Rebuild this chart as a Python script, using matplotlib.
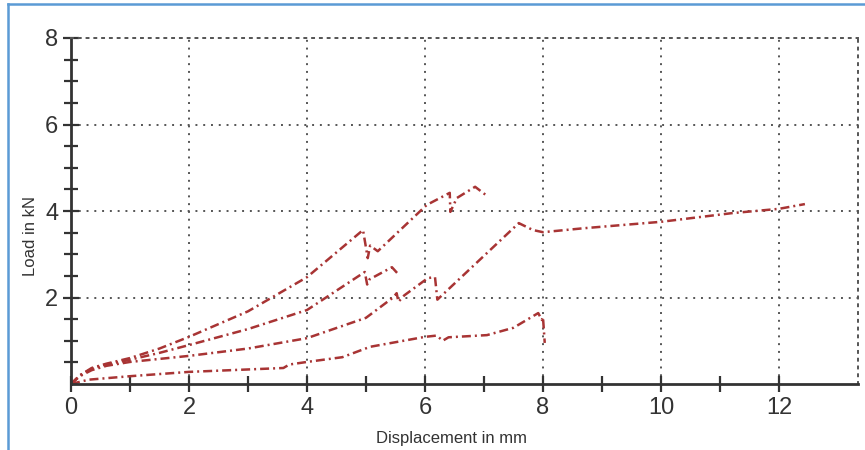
import matplotlib
matplotlib.use("Agg")
import matplotlib.pyplot as plt
from matplotlib.lines import Line2D

# ---- data ----
s1_x = [0, 0.15, 0.35, 0.6, 1, 1.5, 2, 3, 4, 4.95, 5.03, 5.07, 5.2, 6.03, 6.42, 6.43, 6.54, 6.85, 7.07]
s1_y = [0, 0.2, 0.37, 0.47, 0.6, 0.82, 1.09, 1.68, 2.47, 3.56, 2.91, 3.2, 3.07, 4.14, 4.42, 3.98, 4.3, 4.56, 4.33]

s2_x = [0, 0.15, 0.35, 0.6, 1, 1.5, 2, 3, 4, 4.98, 5.02, 5.06, 5.44, 5.54, 5.58]
s2_y = [0, 0.2, 0.35, 0.45, 0.56, 0.72, 0.9, 1.27, 1.71, 2.59, 2.3, 2.42, 2.7, 2.55, 2.52]

s3_x = [0, 0.15, 0.35, 0.6, 1, 1.5, 2, 3, 4, 5, 5.46, 5.52, 5.55, 5.65, 6.05, 6.17, 6.21,
        7.59, 7.83, 8.0, 8.68, 10.0, 11.2, 12.0, 12.44]
s3_y = [0, 0.18, 0.32, 0.42, 0.51, 0.58, 0.65, 0.82, 1.06, 1.53, 2.0, 2.1, 1.9, 2.05, 2.45, 2.47, 1.95,
        3.72, 3.56, 3.51, 3.6, 3.75, 3.95, 4.05, 4.16]

s4_x = [0, 0.3, 1, 2, 3.6, 3.7, 4, 4.6, 5.07, 6.0, 6.2, 6.3, 6.4, 7.05, 7.5, 7.92, 7.98, 8.0, 8.03]
s4_y = [0, 0.1, 0.18, 0.28, 0.37, 0.45, 0.51, 0.62, 0.86, 1.09, 1.12, 1.0, 1.08, 1.13, 1.3, 1.64, 1.48, 1.55, 0.95]

series = [(s1_x, s1_y), (s2_x, s2_y), (s3_x, s3_y), (s4_x, s4_y)]

x_major = [0, 2, 4, 6, 8, 10, 12]
x_minor = [1, 3, 5, 7, 9, 11]
y_major = [2, 4, 6, 8]
y_minor = [0.5, 1, 1.5, 2.5, 3, 3.5, 4.5, 5, 5.5, 6.5, 7, 7.5]

xlabel = "Displacement in mm"
ylabel = "Load in kN"

# ---- figure ----
plt.rcParams['font.family'] = ['Liberation Sans', 'DejaVu Sans']
W, H = 865, 450
fig = plt.figure(figsize=(W / 100, H / 100), dpi=100)
fig.patch.set_facecolor('white')

ax = fig.add_axes([71 / W, 1 - 384 / H, (858 - 71) / W, (384 - 38) / H])
ax.set_xlim(0, 13.34)
ax.set_ylim(0, 8)

line_color = '#a83434'
for xs, ys in series:
    ax.plot(xs, ys, color=line_color, lw=1.8, linestyle=(0, (3.6, 1.6, 0.8, 1.6)),
            solid_capstyle='butt', dash_capstyle='butt')

grid_kw = dict(color='#555555', lw=1.4, linestyle=(0, (1, 3)))
ax.set_xticks(x_major)
ax.set_xticks(x_minor, minor=True)
ax.set_yticks(y_major)
ax.set_yticks(y_minor, minor=True)
ax.grid(True, which='major', **grid_kw)
ax.set_axisbelow(True)

for side in ['top', 'right']:
    ax.spines[side].set_visible(True)
    ax.spines[side].set_color('#555555')
    ax.spines[side].set_linewidth(1.4)
    ax.spines[side].set_linestyle((0, (1, 3)))
for side in ['left', 'bottom']:
    ax.spines[side].set_color('#333333')
    ax.spines[side].set_linewidth(2)

ax.tick_params(axis='both', which='both', direction='inout', colors='#333333',
               width=1.6, labelcolor='#333333', labelsize=17)
ax.tick_params(axis='x', which='major', length=12, pad=3)
ax.tick_params(axis='x', which='minor', length=11)
ax.tick_params(axis='y', which='major', length=12, pad=3)
ax.tick_params(axis='y', which='minor', length=10)
ax.tick_params(top=False, right=False)

ax.set_xlabel(xlabel, fontsize=12, color='#333333')
ax.set_ylabel(ylabel, fontsize=12, color='#333333')
ax.xaxis.set_label_coords(0.483, -0.136)
ax.yaxis.set_label_coords(-0.042, 0.428)

# light-blue frame (left and top edges)
fc = '#5b9bd5'
fig.add_artist(Line2D([8 / W, 8 / W], [0, 1 - 4 / H], transform=fig.transFigure, color=fc, lw=1.8))
fig.add_artist(Line2D([8 / W, 1], [1 - 4 / H, 1 - 4 / H], transform=fig.transFigure, color=fc, lw=1.8))

fig.savefig('out.png', dpi=100, facecolor='white')
